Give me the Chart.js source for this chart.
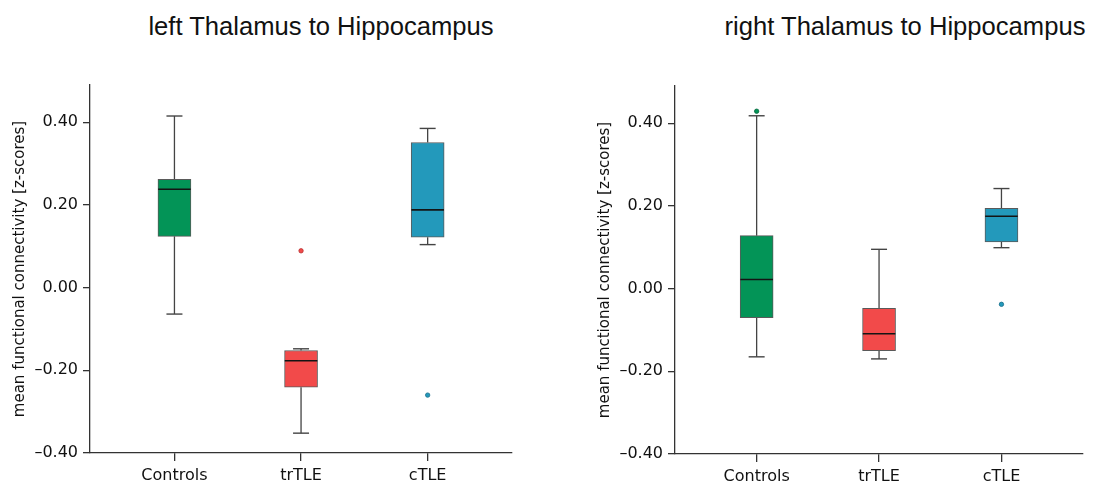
<!DOCTYPE html>
<html>
<head>
<meta charset="utf-8">
<script src="https://cdn.jsdelivr.net/npm/chart.js@4/dist/chart.umd.min.js"></script>
<style>
  html, body { margin: 0; padding: 0; background: #fff; overflow: hidden; width: 1098px; height: 487px; }
  .panel { position: absolute; top: 0; height: 487px; }
  .title { position: absolute; top: 12px; font-family: "Liberation Sans", Arial, sans-serif; font-size: 25.6px; color: #111; white-space: nowrap; transform: translateX(-50%); }
</style>
</head>
<body>
<div class="title" style="left:321px">left Thalamus to Hippocampus</div>
<div class="title" style="left:905px">right Thalamus to Hippocampus</div>
<div class="panel" style="left:0px;width:530px"><canvas id="leftChart" width="530" height="487"></canvas></div>
<div class="panel" style="left:585px;width:516px"><canvas id="rightChart" width="516" height="487"></canvas></div>
<script>
'use strict';

const groups = ['Controls', 'trTLE', 'cTLE'];
const boxColors = ['#039457', '#f24a4a', '#2399bb'];
const outlierColors = ['#0a6a40', '#b83030', '#1a6f8a'];
const yTicks = [-0.4, -0.2, 0.0, 0.2, 0.4];

// left Thalamus to Hippocampus
const leftMin = [-0.064, -0.352, 0.104];
const leftQ1 = [0.124, -0.241, 0.122];
const leftMedian = [0.238, -0.177, 0.188];
const leftQ3 = [0.262, -0.152, 0.351];
const leftMax = [0.415, -0.148, 0.385];
const leftOutlierGroup = [1, 2];
const leftOutlierValue = [0.089, -0.260];

// right Thalamus to Hippocampus
const rightMin = [-0.165, -0.170, 0.099];
const rightQ1 = [-0.070, -0.150, 0.113];
const rightMedian = [0.022, -0.109, 0.175];
const rightQ3 = [0.128, -0.048, 0.194];
const rightMax = [0.418, 0.095, 0.242];
const rightOutlierGroup = [0, 2];
const rightOutlierValue = [0.429, -0.038];

const axisColor = '#333';
const tickFont = { family: '"DejaVu Sans", sans-serif', size: 16 };

function makeDatasets(min, q1, median, q3, max, outGroup, outValue)
{
    var boxes = [], whiskers = [], caps = [], medians = [], outliers = [];
    for (var i = 0; i < groups.length; i++)
    {
        boxes.push({ x: i, y: [q1[i], q3[i]] });
        whiskers.push({ x: i, y: max[i] }, { x: i, y: q3[i] }, { x: i, y: null });
        whiskers.push({ x: i, y: q1[i] }, { x: i, y: min[i] }, { x: i, y: null });
        caps.push({ x: i, y: max[i] }, { x: i, y: min[i] });
        medians.push({ x: i, y: median[i] });
    }
    for (var j = 0; j < outGroup.length; j++)
    {
        outliers.push({ x: outGroup[j], y: outValue[j] });
    }

    return [
        {
            type: 'scatter',
            label: 'median',
            data: medians,
            pointStyle: 'line',
            pointRadius: 16.3,
            pointBorderColor: '#141414',
            pointBorderWidth: 1.6
        },
        {
            type: 'scatter',
            label: 'outliers',
            data: outliers,
            pointStyle: 'circle',
            pointRadius: 2.2,
            pointBackgroundColor: outGroup.map(g => boxColors[g]),
            pointBorderColor: outGroup.map(g => outlierColors[g]),
            pointBorderWidth: 0.8
        },
        {
            type: 'bar',
            label: 'box',
            data: boxes,
            backgroundColor: boxColors,
            borderColor: '#5a5a5a',
            borderWidth: 1,
            borderSkipped: false,
            barThickness: 33
        },
        {
            type: 'scatter',
            label: 'caps',
            data: caps,
            pointStyle: 'line',
            pointRadius: 8,
            pointBorderColor: '#444',
            pointBorderWidth: 1.4
        },
        {
            type: 'scatter',
            label: 'whiskers',
            data: whiskers,
            showLine: true,
            spanGaps: false,
            borderColor: '#444',
            borderWidth: 1.3,
            pointRadius: 0
        }
    ];
}

function makeChart(id, datasets, padTop, padRight, xHeight)
{
    const ctx = document.getElementById(id).getContext('2d');
    return new Chart(ctx, {
        type: 'scatter',
        data: { datasets: datasets },
        options: {
            responsive: false,
            animation: false,
            events: [],
            layout: { padding: { top: padTop, right: padRight, left: 0, bottom: 0 } },
            plugins: {
                legend: { display: false },
                tooltip: { enabled: false },
                title: { display: false }
            },
            scales: {
                x: {
                    type: 'linear',
                    min: -0.667,
                    max: 2.667,
                    offset: false,
                    afterBuildTicks: function (scale)
                    {
                        scale.ticks = groups.map((g, i) => ({ value: i }));
                    },
                    afterFit: function (scale)
                    {
                        scale.height = xHeight;
                    },
                    ticks: {
                        callback: function (value)
                        {
                            return groups[value];
                        },
                        font: { family: '"DejaVu Sans", sans-serif', size: 16 },
                        color: '#111',
                        padding: 5,
                        maxRotation: 0,
                        autoSkip: false
                    },
                    grid: {
                        offset: false,
                        drawOnChartArea: false,
                        drawTicks: true,
                        tickLength: 8,
                        color: axisColor,
                        lineWidth: 1.3
                    },
                    border: { display: true, color: axisColor, width: 1.3 }
                },
                y: {
                    type: 'linear',
                    min: -0.4,
                    max: 0.49,
                    afterBuildTicks: function (scale)
                    {
                        scale.ticks = yTicks.map(v => ({ value: v }));
                    },
                    afterFit: function (scale)
                    {
                        scale.width = 90;
                    },
                    ticks: {
                        callback: function (value)
                        {
                            return value.toFixed(2).replace('-', '\u2013');
                        },
                        font: tickFont,
                        color: '#111',
                        padding: 5
                    },
                    grid: {
                        drawOnChartArea: false,
                        drawTicks: true,
                        tickLength: 7,
                        color: axisColor,
                        lineWidth: 1.3
                    },
                    border: { display: true, color: axisColor, width: 1.3 },
                    title: {
                        display: true,
                        text: 'mean functional connectivity [z-scores]',
                        font: { family: '"DejaVu Sans", sans-serif', size: 15 },
                        color: '#111',
                        padding: { top: 11, bottom: 0 }
                    }
                }
            }
        }
    });
}

makeChart('leftChart',
    makeDatasets(leftMin, leftQ1, leftMedian, leftQ3, leftMax, leftOutlierGroup, leftOutlierValue),
    85, 14, 34);
makeChart('rightChart',
    makeDatasets(rightMin, rightQ1, rightMedian, rightQ3, rightMax, rightOutlierGroup, rightOutlierValue),
    86, 0, 33);
</script>
</body>
</html>
